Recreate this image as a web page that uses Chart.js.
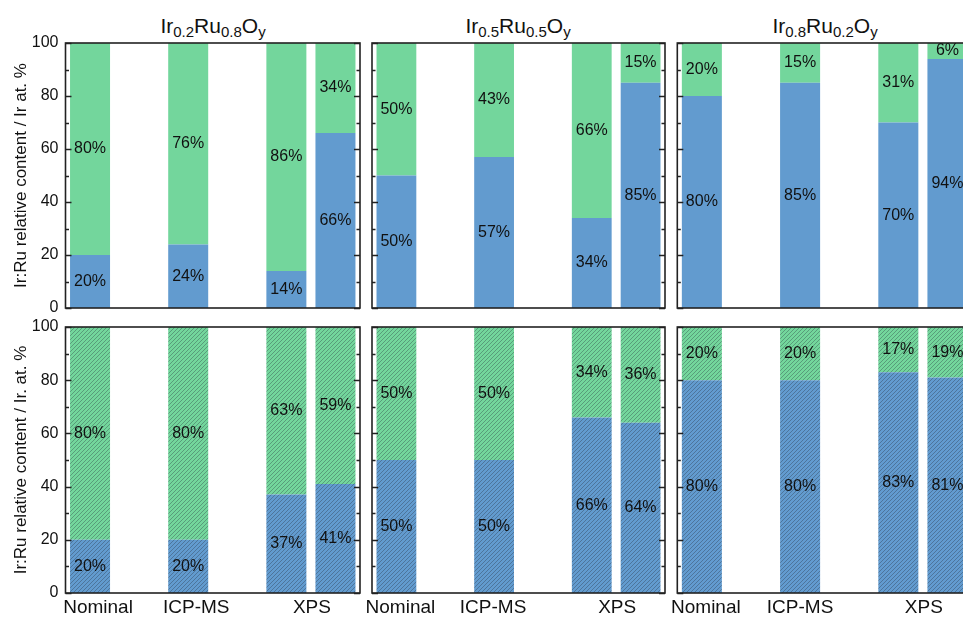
<!DOCTYPE html>
<html>
<head>
<meta charset="utf-8">
<script src="https://cdn.jsdelivr.net/npm/chart.js@4.4.1/dist/chart.umd.min.js"></script>
<style>
  html, body { margin: 0; padding: 0; background: #fff; }
  body { width: 963px; height: 617px; position: relative; overflow: hidden; font-family: "Liberation Sans", Arial, sans-serif; }
  canvas { position: absolute; }
  .title { position: absolute; top: 15px; font-size: 21px; line-height: 21px; color: #111; white-space: nowrap; transform: translateX(-50%); }
  .title sub { font-size: 15px; vertical-align: -4px; line-height: 0; }
</style>
</head>
<body>
<div class="title" style="left:213px">Ir<sub>0.2</sub>Ru<sub>0.8</sub>O<sub>y</sub></div>
<div class="title" style="left:518px">Ir<sub>0.5</sub>Ru<sub>0.5</sub>O<sub>y</sub></div>
<div class="title" style="left:825px">Ir<sub>0.8</sub>Ru<sub>0.2</sub>O<sub>y</sub></div>

<canvas id="c1" width="366" height="318" style="left:0;top:0"></canvas>
<canvas id="c2" width="305" height="318" style="left:366px;top:0"></canvas>
<canvas id="c3" width="310" height="318" style="left:671px;top:0"></canvas>
<canvas id="c4" width="366" height="299" style="left:0;top:318px"></canvas>
<canvas id="c5" width="331" height="299" style="left:340px;top:318px"></canvas>
<canvas id="c6" width="336" height="299" style="left:645px;top:318px"></canvas>

<script>
// 6 slots per panel: Nominal, gap, ICP-MS, gap, XPS, XPS
const slots = ['Nominal', '', 'ICP-MS', '', 'XPS', ''];
const xTickLabels = ['Nominal', 'ICP-MS', 'XPS'];
const xTickSlots = [[0], [2], [4, 5]];
const yTicks = [0, 20, 40, 60, 80, 100];

// top row
const ir02Top = [20, null, 24, null, 14, 66];
const ru02Top = [80, null, 76, null, 86, 34];
const ir05Top = [50, null, 57, null, 34, 85];
const ru05Top = [50, null, 43, null, 66, 15];
const ir08Top = [80, null, 85, null, 70, 94];
const ru08Top = [20, null, 15, null, 31, 6];

// bottom row (hatched)
const ir02Bot = [20, null, 20, null, 37, 41];
const ru02Bot = [80, null, 80, null, 63, 59];
const ir05Bot = [50, null, 50, null, 66, 64];
const ru05Bot = [50, null, 50, null, 34, 36];
const ir08Bot = [80, null, 80, null, 83, 81];
const ru08Bot = [20, null, 20, null, 17, 19];

const BLUE = '#629bcf';
const GREEN = '#73d69c';
const FONT = '"Liberation Sans", Arial, sans-serif';

function hatch(color) {
  const s = 4;
  const c = document.createElement('canvas');
  c.width = s; c.height = s;
  const g = c.getContext('2d');
  g.fillStyle = color;
  g.fillRect(0, 0, s, s);
  g.strokeStyle = 'rgba(35,45,55,0.45)';
  g.lineWidth = 0.75;
  g.beginPath();
  g.moveTo(0, s); g.lineTo(s, 0);
  g.moveTo(-1, 1); g.lineTo(1, -1);
  g.moveTo(s - 1, s + 1); g.lineTo(s + 1, s - 1);
  g.stroke();
  return g.createPattern(c, 'repeat');
}

const frameAndLabels = {
  id: 'frameAndLabels',
  afterDatasetsDraw(chart, args, opts) {
    const { ctx, chartArea: a, scales: { x, y } } = chart;
    ctx.save();

    // inward ticks, both sides
    ctx.strokeStyle = '#222';
    ctx.lineWidth = 1.3;
    for (let v = 0; v <= 100; v += 10) {
      const py = Math.round(y.getPixelForValue(v)) + 0.5;
      const len = v % 20 === 0 ? 6 : 3.5;
      ctx.beginPath();
      ctx.moveTo(a.left, py); ctx.lineTo(a.left + len, py);
      ctx.moveTo(a.right, py); ctx.lineTo(a.right - len, py);
      ctx.stroke();
    }
    ctx.lineWidth = 1.6;
    ctx.strokeRect(a.left, a.top, a.right - a.left, a.bottom - a.top);

    // percentage labels in the middle of each segment
    ctx.font = '16px ' + FONT;
    ctx.fillStyle = '#111';
    ctx.textAlign = 'center';
    ctx.textBaseline = 'middle';
    chart.data.datasets.forEach((ds, i) => {
      chart.getDatasetMeta(i).data.forEach((bar, j) => {
        const v = ds.data[j];
        if (v == null) return;
        const top = Math.max(bar.y, a.top);
        ctx.fillText(v + '%', bar.x, (top + bar.base) / 2);
      });
    });

    // category labels under the bottom row
    if (opts.showX) {
      ctx.font = '19px ' + FONT;
      const shift = opts.shift || [];
      xTickLabels.forEach((t, k) => {
        const idx = xTickSlots[k];
        const px = idx.reduce((s, i) => s + x.getPixelForValue(i), 0) / idx.length + (shift[k] || 0);
        ctx.fillText(t, px, a.bottom + 14.5);
      });
    }
    ctx.restore();
  }
};

function makePanel(id, ir, ru, o) {
  const hatched = o.hatched;
  const yAxis = {
    stacked: true,
    display: o.showY,
    min: 0,
    max: 100,
    afterBuildTicks: s => { s.ticks = yTicks.map(v => ({ value: v })); },
    grid: { display: false, drawTicks: false },
    border: { display: false },
    ticks: { padding: 7, color: '#111', font: { size: 16, family: FONT } },
    title: {
      display: o.showY,
      text: o.yTitle || '',
      color: '#111',
      font: { size: 17, family: FONT },
      padding: { top: 11, bottom: 0 }
    }
  };
  if (o.showY) {
    yAxis.afterFit = s => { s.width = 65.5; s.paddingTop = 0; s.paddingBottom = 0; };
  }
  new Chart(document.getElementById(id), {
    type: 'bar',
    data: {
      labels: slots,
      datasets: [
        { label: 'Ir', data: ir, backgroundColor: hatched ? hatch(BLUE) : BLUE, borderWidth: 0 },
        { label: 'Ru', data: ru, backgroundColor: hatched ? hatch(GREEN) : GREEN, borderWidth: 0 }
      ]
    },
    options: {
      responsive: false,
      animation: false,
      events: [],
      barPercentage: 0.815,
      categoryPercentage: 1,
      layout: { padding: o.padding },
      plugins: {
        legend: { display: false },
        tooltip: { enabled: false },
        frameAndLabels: { showX: o.showX, shift: o.shift }
      },
      scales: {
        x: { stacked: true, display: false },
        y: yAxis
      }
    },
    plugins: [frameAndLabels]
  });
}

const topPad = { top: 43, bottom: 10 };
const botPad = { top: 9, bottom: 24 };

makePanel('c1', ir02Top, ru02Top, { showY: true, yTitle: 'Ir:Ru relative content / Ir at. %', padding: { left: 0, right: 6, ...topPad } });
makePanel('c2', ir05Top, ru05Top, { showY: false, padding: { left: 6, right: 6, ...topPad } });
makePanel('c3', ir08Top, ru08Top, { showY: false, padding: { left: 6.3, right: 9, ...topPad } });
makePanel('c4', ir02Bot, ru02Bot, { hatched: true, showX: true, shift: [8, 8, 1], showY: true, yTitle: 'Ir:Ru relative content / Ir. at. %', padding: { left: 0, right: 6, ...botPad } });
makePanel('c5', ir05Bot, ru05Bot, { hatched: true, showX: true, shift: [4, -1, 1], showY: false, padding: { left: 32, right: 6, ...botPad } });
makePanel('c6', ir08Bot, ru08Bot, { hatched: true, showX: true, shift: [4, 0, 1], showY: false, padding: { left: 32.3, right: 9, ...botPad } });
</script>
</body>
</html>
